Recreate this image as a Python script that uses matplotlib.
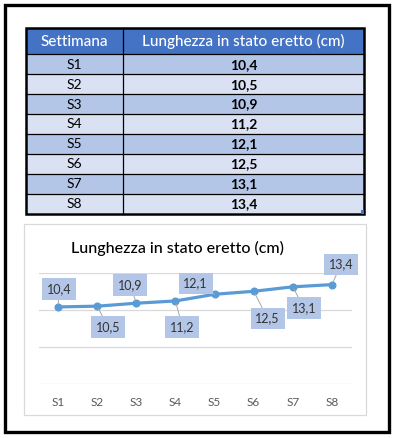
import matplotlib
matplotlib.use("Agg")
import matplotlib.pyplot as plt
from matplotlib.patches import Rectangle

plt.rcParams['font.family'] = ['Lato', 'DejaVu Sans']

weeks = ["S1", "S2", "S3", "S4", "S5", "S6", "S7", "S8"]
lengths = [10.4, 10.5, 10.9, 11.2, 12.1, 12.5, 13.1, 13.4]
labels = ["10,4", "10,5", "10,9", "11,2", "12,1", "12,5", "13,1", "13,4"]
header = ["Settimana", "Lunghezza in stato eretto (cm)"]
title = "Lunghezza in stato eretto (cm)"

# label offsets (pixels) chosen to mimic the excel layout
label_offsets = [(1, 18), (11, -21), (-6, 18), (7, -26), (-19, 11), (14, -27), (11, -21), (9, 20)]

W, H = 395, 438
fig = plt.figure(figsize=(W / 100, H / 100), dpi=100)

# overlay in pixel coordinates for frame, table and chart box
bg = fig.add_axes([0, 0, 1, 1])
bg.set_xlim(0, W)
bg.set_ylim(H, 0)
bg.axis("off")

bg.add_patch(Rectangle((4.5, 5), 384, 426.5, fill=False, edgecolor="black", lw=2.4))
bg.add_patch(Rectangle((24.3, 224.3), 342, 191, fill=False, edgecolor="#d9d9d9", lw=0.9))

# table
tx0, tx1, tmid = 25.7, 364, 122.7
top, head_h, row_h = 28.3, 26, 19.9
bg.add_patch(Rectangle((tx0, top), tx1 - tx0, head_h, facecolor="#4472C4", edgecolor="none"))
bg.text((tx0 + tmid) / 2, top + head_h / 2 + 0.5, header[0], color="white", fontsize=11,
        ha="center", va="center", fontweight="medium")
bg.text((tmid + tx1) / 2, top + head_h / 2 + 0.5, header[1], color="white", fontsize=11,
        ha="center", va="center", fontweight="medium")
for i, (wk, lab) in enumerate(zip(weeks, labels)):
    y0 = top + head_h + i * row_h
    col = "#B4C6E7" if i % 2 == 0 else "#D9E1F2"
    bg.add_patch(Rectangle((tx0, y0), tx1 - tx0, row_h, facecolor=col, edgecolor="none"))
    bg.plot([tx0, tx1], [y0, y0], color="black", lw=0.9)
    bg.text((tx0 + tmid) / 2, y0 + row_h / 2 + 0.5, wk, fontsize=10, ha="center", va="center", color="black")
    bg.text((tmid + tx1) / 2, y0 + row_h / 2 + 0.5, lab, fontsize=10, ha="center", va="center",
            color="black", fontweight="bold")
tbot = top + head_h + len(weeks) * row_h
bg.plot([tmid, tmid], [top, tbot], color="black", lw=0.9)
bg.add_patch(Rectangle((tx0, top), tx1 - tx0, tbot - top, fill=False, edgecolor="black", lw=1.8))
bg.add_patch(Rectangle((tx1 - 3.5, tbot - 3.5), 3.5, 3.5, facecolor="#4472C4", edgecolor="none"))

bg.text(177.5, 248.5, title, fontsize=11.5, ha="center", va="center", color="black",
        fontweight="medium")

# line chart
ax = fig.add_axes([38.5 / W, 1 - 384.3 / H, 313 / W, 111.6 / H])
x = list(range(len(weeks)))
ax.plot(x, lengths, color="#5B9BD5", lw=2.3, marker="o", ms=4.8, zorder=3)
ax.set_xlim(-0.5, len(weeks) - 0.5)
ax.set_ylim(0, 15)
ax.set_yticks([0, 5, 10, 15])
ax.set_yticklabels([])
ax.set_xticks(x)
ax.set_xticklabels(weeks, color="#595959", fontsize=8.5)
ax.tick_params(length=0, pad=9)
ax.grid(axis="y", color="#d9d9d9", lw=0.9)
ax.set_axisbelow(True)
for s in ax.spines.values():
    s.set_visible(False)

for xi, yi, lab, off in zip(x, lengths, labels, label_offsets):
    ax.annotate(lab, (xi, yi), xytext=off, textcoords="offset pixels", ha="center", va="center",
                fontsize=9, color="#333333",
                bbox=dict(boxstyle="square,pad=0.38", facecolor="#B4C6E7", edgecolor="none"),
                arrowprops=dict(arrowstyle="-", color="#a6a6a6", lw=0.7, shrinkA=0, shrinkB=2))

fig.savefig("out.png", dpi=100)
